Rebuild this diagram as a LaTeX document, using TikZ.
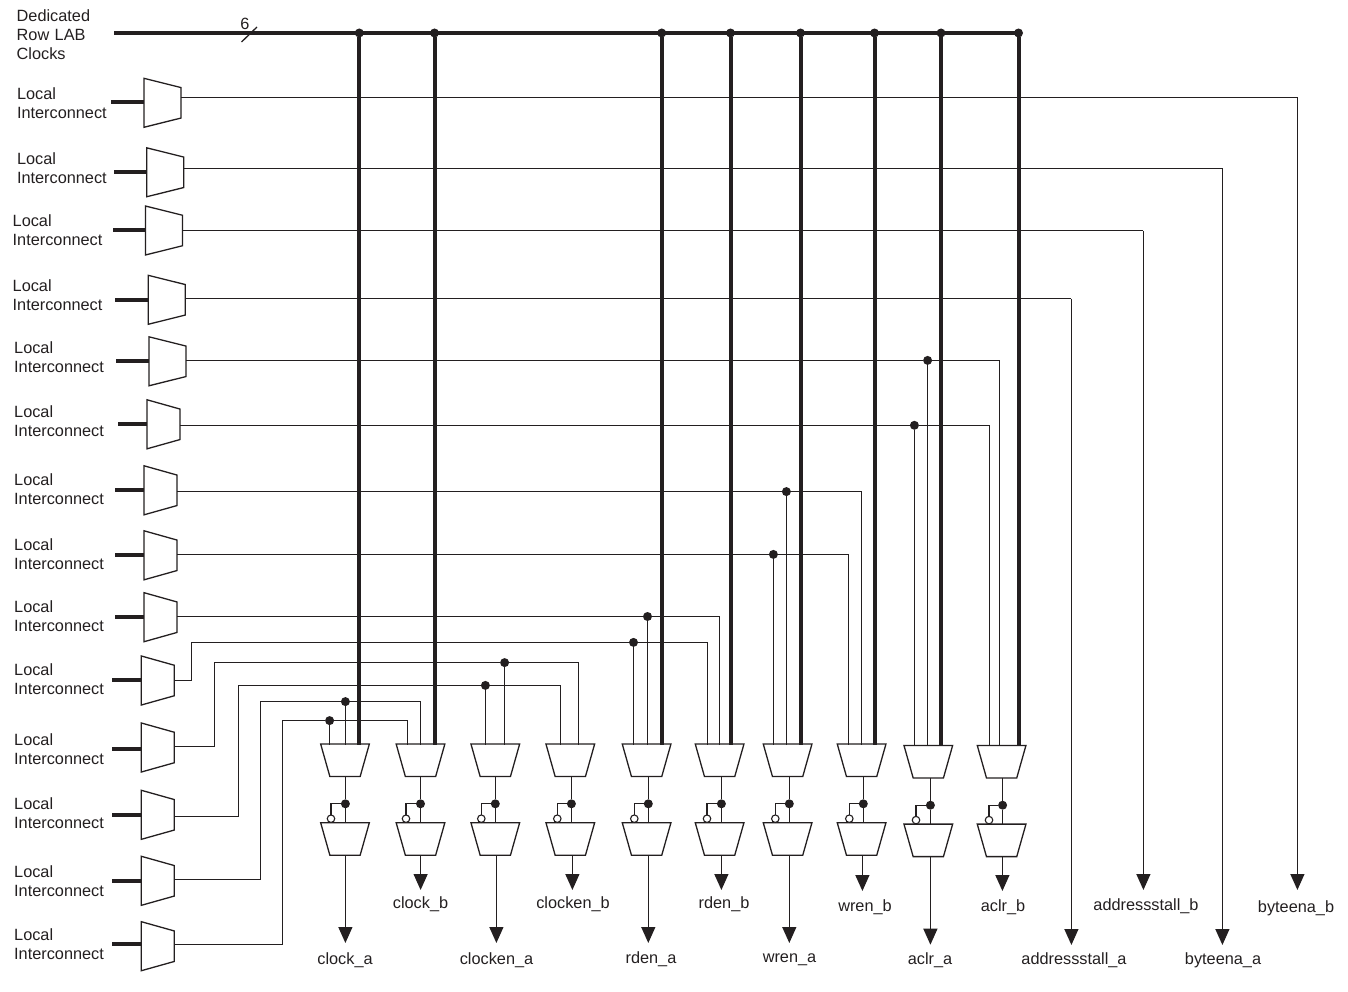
\documentclass[tikz,border=0pt]{standalone}
\usepackage{fontspec}
\setmainfont{Liberation Sans}
\usetikzlibrary{shapes.geometric,arrows.meta,calc}
\definecolor{ink}{HTML}{231F20}
\tikzset{
  base/.style={draw=ink,fill=white,line width=1.3pt,inner sep=0pt,outer sep=0pt,trapezium,text depth=0pt},
  inmuxw/.style={base,shape border rotate=270,text width=37pt,text height=30.5pt,trapezium left angle=76,trapezium right angle=76},
  inmuxn/.style={base,shape border rotate=270,text width=33pt,text height=30.5pt,trapezium left angle=74.3,trapezium right angle=74.3},
  lowmux/.style={base,shape border rotate=180,text width=30.3pt,text height=32.5pt,trapezium left angle=74.2,trapezium right angle=74.2},
  sig/.style={draw=ink,line width=1.3pt},
  bus/.style={draw=ink,line width=4pt},
  tip/.style={sig,-{Triangle[width=14pt,length=16pt]}},
  dot/.style={circle,fill=ink,inner sep=0pt,outer sep=0pt,minimum size=9pt},
  inv/.style={circle,draw=ink,fill=white,line width=1.1pt,inner sep=0pt,outer sep=0pt,minimum size=7.5pt},
  lab/.style={text=ink,font=\fontsize{16.3}{19}\selectfont,align=left,anchor=west,inner sep=0pt},
  olab/.style={text=ink,font=\fontsize{16.3}{19}\selectfont,inner sep=0pt},
}
\begin{document}
\begin{tikzpicture}[x=1pt,y=-1pt]
\useasboundingbox (0,0) rectangle (1348,992);
% top bus
\node[lab,text width=90pt] (dc) at (16.5,35) {Dedicated\\Row LAB\\Clocks};
\coordinate (bs) at (114,33);
\coordinate (be) at (1019,33);
\draw[bus] (bs) -- (be);
\coordinate (sa) at (241.5,42);
\coordinate (sb) at (257,27);
\draw[sig] (sa) -- (sb);
\node[olab] (six) at (245,24) {6};
% left labels
\foreach \i/\x/\y in {1/16.8/103.5,2/16.8/168.5,3/12.5/230.5,4/12.5/295.5,5/14/357.5,6/14/421.5,7/14/489.5,8/14/554.5,9/14/616.5,10/14/679.5,11/14/749.5,12/14/813.5,13/14/881.5,14/14/944.5}
  \node[lab] (l\i) at (\x,\y) {Local\\Interconnect};
% input muxes
\node[inmuxw] (m1) at (162.5,102.8) {};
\node[inmuxw] (m2) at (165.2,172.3) {};
\node[inmuxw] (m3) at (164,230.5) {};
\node[inmuxw] (m4) at (166.8,299.8) {};
\node[inmuxw] (m5) at (167.5,361.3) {};
\node[inmuxn] (m6) at (163.5,424.3) {};
\node[inmuxn] (m7) at (160.5,490.3) {};
\node[inmuxn] (m8) at (160.5,555.3) {};
\node[inmuxn] (m9) at (160.5,617.2) {};
\node[inmuxn] (m10) at (157.8,680.5) {};
\node[inmuxn] (m11) at (157.8,747.5) {};
\node[inmuxn] (m12) at (157.8,814.8) {};
\node[inmuxn] (m13) at (157.8,880.8) {};
\node[inmuxn] (m14) at (157.8,946.2) {};
% input stubs
\foreach \i/\x/\y in {1/111/102,2/114/172,3/113/230,4/115/299.5,5/116/361,6/118/424,7/115/490,8/115/555,9/115/616.7,10/112/680,11/112/749.3,12/112/814.7,13/112/881,14/112/944.3}{
  \coordinate (s\i) at (\x,\y);
  \draw[bus] (s\i) -- (m\i.west |- s\i);
}
% lower mux pairs: column, centre x, top y, stem x, inverter x, arrow x, tip y
\foreach \c/\x/\y/\sx/\ix/\ax/\ty in {1/345/744/345.4/331/345.4/943,2/420.5/744/420.5/406/420.6/890,3/495.3/744/495.3/481.3/496.4/943,4/570.3/744/571.4/557.3/572.4/890,5/646.6/744/648.3/634.3/648.3/943,6/719.6/744/721.4/707/721.4/890,7/787.6/744/789.3/775.3/789.3/943,8/861.6/744/863.3/849.3/862.4/891,9/928.3/745.4/930.4/916/930.4/944.7,10/1001.6/745.4/1002.6/989/1002.4/891}{
  \node[lowmux,anchor=center] (u\c) at (\x,\y+16.25) {};
  \node[lowmux,anchor=center] (v\c) at (\x,\y+78.7+16.25) {};
  \coordinate (st\c) at (\sx,\y+32.5);
  \node[dot] (j\c) at (\sx,\y+59.8) {};
  \coordinate (sb\c) at (\sx,\y+78.7);
  \node[inv] (n\c) at (\ix,\y+74.7) {};
  \draw[sig] (st\c) -- (j\c) -- (sb\c);
  \draw[sig] (j\c) -| (n\c);
  \coordinate (ao\c) at (\ax,\y+111.2);
  \coordinate (ae\c) at (\ax,\ty);
  \draw[tip] (ao\c) -- (ae\c);
}
% output labels
\node[olab] (o1) at (345,960) {clock\_a};
\node[olab] (o2) at (420.5,904) {clock\_b};
\node[olab] (o3) at (496.5,960) {clocken\_a};
\node[olab] (o4) at (573,904) {clocken\_b};
\node[olab] (o5) at (651,959.5) {rden\_a};
\node[olab] (o6) at (724,904) {rden\_b};
\node[olab] (o7) at (789.5,959.5) {wren\_a};
\node[olab] (o8) at (865,907) {wren\_b};
\node[olab] (o9) at (930,960.5) {aclr\_a};
\node[olab] (o10) at (1003,907) {aclr\_b};
\node[olab] (o11) at (1074,960.5) {addressstall\_a};
\node[olab] (o12) at (1146,906.5) {addressstall\_b};
\node[olab] (o13) at (1223,960.5) {byteena\_a};
\node[olab] (o14) at (1296,908) {byteena\_b};
% clock bus branches
\foreach \c/\x in {1/359.3,2/434.5,5/661.7,6/730.5,7/800.5,8/874.5,9/941,10/1018.5}{
  \node[dot] (t\c) at (\x,33) {};
  \coordinate (tb\c) at (\x,745);
  \draw[bus] (t\c) -- (tb\c);
}
% straight-through outputs
\foreach \m/\y/\x/\ty in {1/97.5/1297.4/890,2/168.5/1222.4/945,3/230.6/1143.4/890,4/298.7/1071.4/945}{
  \coordinate (c\m) at (\x,\y);
  \coordinate (e\m) at (\x,\ty);
  \draw[sig] (m\m.east |- c\m) -- (c\m);
  \draw[tip] (c\m) -- (e\m);
}
% routed outputs with branch dots: mux, y, run x, dot x
\foreach \m/\y/\x/\dx in {5/360.4/999.6/927.6,6/425.3/989.6/914.4,7/491.6/861.4/786.4,8/554.4/848.6/773.4,9/616.5/719.4/647.5,10/642.4/707.4/633.5,11/662.6/578.6/504.6,12/685.4/560.4/485.4,13/701.6/420.4/345.4,14/720.6/407.4/329.6}{
  \coordinate (c\m) at (\x,\y);
  \coordinate (e\m) at (\x,745);
  \node[dot] (d\m) at (\dx,\y) {};
  \coordinate (f\m) at (\dx,745);
  \draw[sig] (d\m) -- (f\m);
  \draw[sig] (d\m) -- (c\m) -- (e\m);
}
\draw[sig] (m5.east |- c5) -- (d5);
\draw[sig] (m6.east |- c6) -- (d6);
\draw[sig] (m7.east |- c7) -- (d7);
\draw[sig] (m8.east |- c8) -- (d8);
\draw[sig] (m9.east |- c9) -- (d9);
% jogged inputs
\coordinate (k10) at (191.4,680.4);
\coordinate (k11) at (214.4,746.4);
\coordinate (k12) at (238.4,816.4);
\coordinate (k13) at (260.6,879.6);
\coordinate (k14) at (282.6,944.6);
\foreach \m in {10,11,12,13,14}
  \draw[sig] (m\m.east |- k\m) -- (k\m) |- (d\m);
\end{tikzpicture}
\end{document}
